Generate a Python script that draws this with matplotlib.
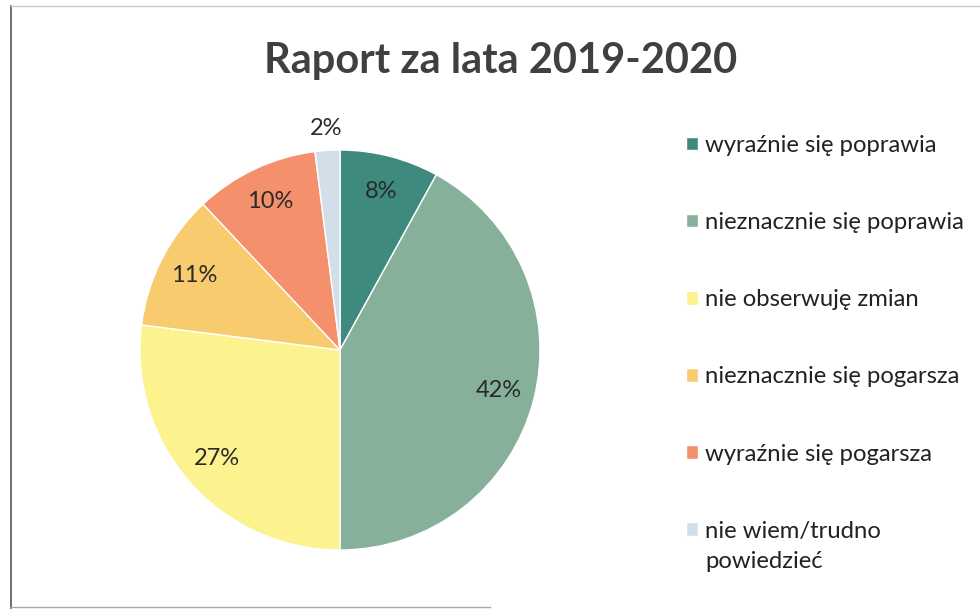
import matplotlib
matplotlib.use("Agg")
import matplotlib.pyplot as plt
from matplotlib.lines import Line2D

plt.rcParams['font.family'] = ['Lato', 'DejaVu Sans']

# data
categories = ["wyraźnie się poprawia", "nieznacznie się poprawia", "nie obserwuję zmian",
              "nieznacznie się pogarsza", "wyraźnie się pogarsza", "nie wiem/trudno"]
last_label_tail = "powiedzieć"  # second line of the last legend label
percent = [8, 42, 27, 11, 10, 2]
colors = ["#3f8a7f", "#86b09a", "#fcf28e", "#f8cb6e", "#f5906c", "#d2dfe9"]

fig = plt.figure(figsize=(9.8, 6.1), dpi=100)
ax = fig.add_axes([140 / 980, 60 / 610, 400 / 980, 400 / 610])

wedges, texts, autotexts = ax.pie(percent, colors=colors, startangle=90, counterclock=False,
                                  autopct='%d%%', pctdistance=0.82, radius=1,
                                  wedgeprops=dict(edgecolor='white', linewidth=1),
                                  textprops=dict(fontsize=17, color='#2a2a2a'))
# smallest slice label sits outside the pie
x, y = autotexts[-1].get_position()
autotexts[-1].set_position((x / 0.82 * 1.11, y / 0.82 * 1.11))
ax.set_xlim(-1, 1)
ax.set_ylim(-1, 1)
ax.set_aspect('auto')

fig.text(0.511, 0.9, "Raport za lata 2019-2020", ha='center', va='center',
         fontsize=30, fontweight='bold', color='#404040')

leg = fig.legend(wedges, categories, loc='upper left', bbox_to_anchor=(686 / 980, 1 - 135 / 610),
                 frameon=False, fontsize=17.2, labelspacing=2.35, handlelength=0.5,
                 handleheight=0.5, handletextpad=0.3, borderpad=0, borderaxespad=0,
                 labelcolor='#222222')

# wrapped tail of the last legend entry
fig.text(705 / 980, 1 - 562 / 610, last_label_tail, ha='left', va='center',
         fontsize=17.2, color='#222222')

# scanned page frame
fig.add_artist(Line2D([11 / 980, 11 / 980], [2 / 610, 1 - 6 / 610], color='#555555', lw=1.2))
fig.add_artist(Line2D([11 / 980, 1], [1 - 6 / 610, 1 - 6 / 610], color='#cccccc', lw=1))
fig.add_artist(Line2D([11 / 980, 0.5], [3 / 610, 3 / 610], color='#aaaaaa', lw=1))

fig.savefig("out.png", dpi=100)
